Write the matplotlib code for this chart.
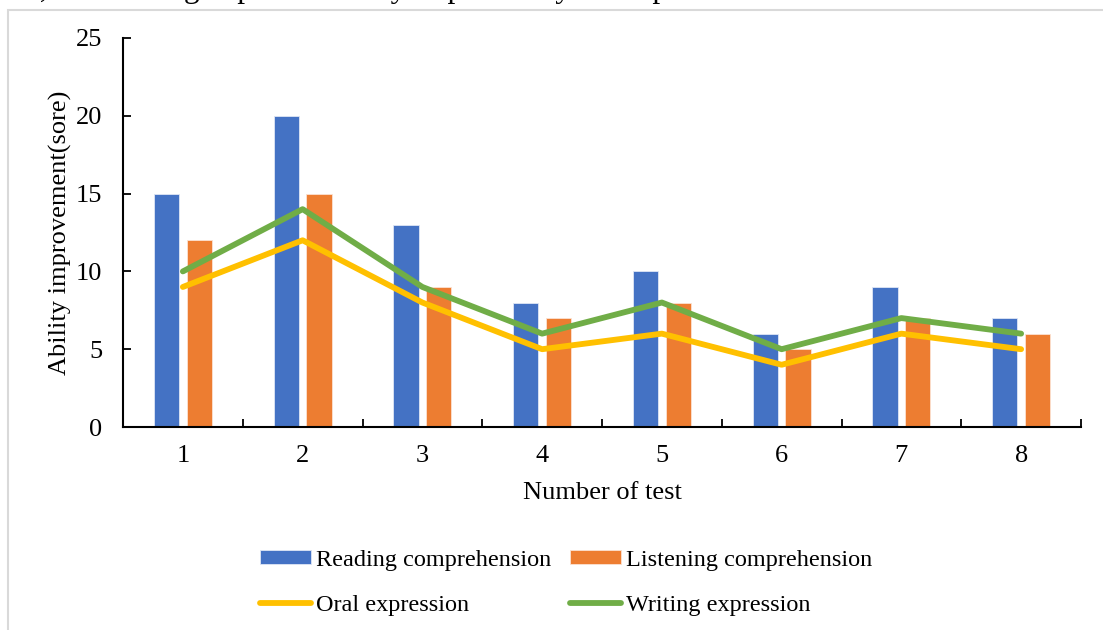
import matplotlib.pyplot as plt
from matplotlib import ticker
from matplotlib.patches import Rectangle
import numpy as np

plt.rcParams['font.family'] = ['Liberation Serif', 'DejaVu Serif']

tests = [1, 2, 3, 4, 5, 6, 7, 8]
reading = [15, 20, 13, 8, 10, 6, 9, 7]
listening = [12, 15, 9, 7, 8, 5, 7, 6]
oral = [9, 12, 8, 5, 6, 4, 6, 5]
writing = [10, 14, 9, 6, 8, 5, 7, 6]

fig = plt.figure(figsize=(11.03, 6.3), dpi=100)

# light frame around the chart area and the cut-off sentence above it
fig.patches.append(Rectangle((8 / 1103, -0.01), 1.0, 1 - 10 / 630 + 0.01,
                             transform=fig.transFigure, fill=False,
                             edgecolor='#d9d9d9', linewidth=1.5))
fig.text(17 / 1103, 1 + 3 / 630, 'al, and writing expression only improves by 3.5-5 points.',
         fontsize=22.7, ha='left', va='baseline')

ax = fig.add_axes([123 / 1103, 1 - 427 / 630, (1081 - 123) / 1103, (427 - 38) / 630])

x = np.array(tests)
w = 0.21
ax.bar(x - 0.137, reading, w, color='#4472C4', edgecolor='#dfe6f5', linewidth=0.6,
       label='Reading comprehension', zorder=2)
ax.bar(x + 0.137, listening, w, color='#ED7D31', edgecolor='#fbe2d2', linewidth=0.6,
       label='Listening comprehension', zorder=2)
ax.plot(x, oral, color='#FFC000', linewidth=4.2, solid_capstyle='round',
        solid_joinstyle='round', label='Oral expression', zorder=3)
ax.plot(x, writing, color='#70AD47', linewidth=4.2, solid_capstyle='round',
        solid_joinstyle='round', label='Writing expression', zorder=4)

ax.set_xlim(0.5, 8.5)
ax.set_ylim(0, 25)
ax.yaxis.set_major_locator(ticker.MultipleLocator(5))
ax.xaxis.set_major_locator(ticker.FixedLocator(np.arange(0.5, 9, 1)))
ax.xaxis.set_major_formatter(ticker.NullFormatter())
ax.xaxis.set_minor_locator(ticker.FixedLocator(tests))
ax.xaxis.set_minor_formatter(ticker.FixedFormatter([str(t) for t in tests]))

for s in ['top', 'right']:
    ax.spines[s].set_visible(False)
for s in ['left', 'bottom']:
    ax.spines[s].set_linewidth(1.5)
    ax.spines[s].set_color('black')

ax.tick_params(axis='y', direction='in', length=6, width=1.3, labelsize=19, pad=15)
ax.tick_params(axis='x', which='major', direction='in', length=6, width=1.3)
ax.tick_params(axis='x', which='minor', length=0, labelsize=19, pad=13)

ax.set_xlabel('Number of test', fontsize=19, labelpad=11)
ax.set_ylabel('Ability improvement(sore)', fontsize=19, labelpad=3)

h, l = ax.get_legend_handles_labels()
hd = dict(zip(l, h))
order = ['Reading comprehension', 'Oral expression', 'Listening comprehension', 'Writing expression']
fig.legend([hd[k] for k in order], order, ncol=2, loc='center',
           bbox_to_anchor=(566 / 1103, 1 - 583 / 630), frameon=False, fontsize=17.5,
           handlelength=2.1, handleheight=0.5, handletextpad=0.2, columnspacing=0.8,
           labelspacing=1.0)

fig.savefig('out.png', dpi=100)
